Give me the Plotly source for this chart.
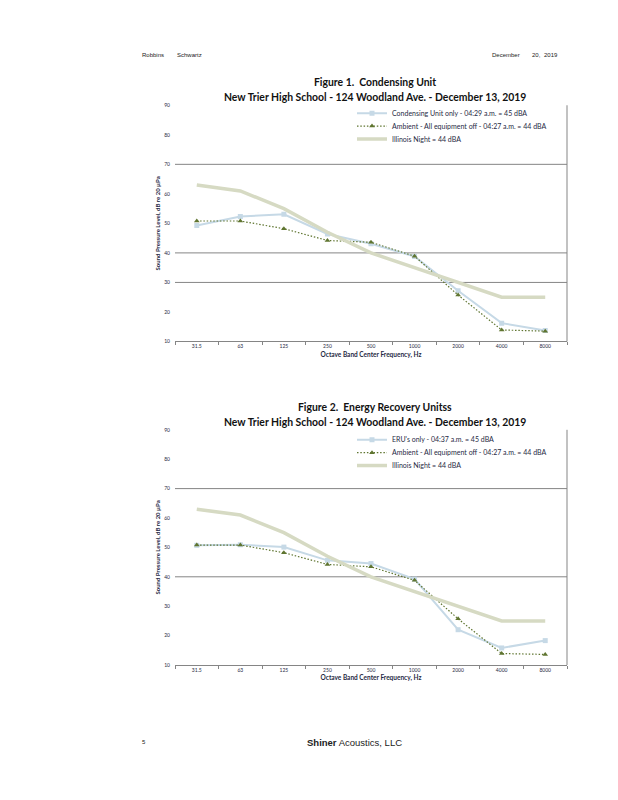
import plotly.graph_objects as go

freqs = ["31.5", "63", "125", "250", "500", "1000", "2000", "4000", "8000"]

# Figure 1 data
cu_only = [49.3, 52.3, 53.1, 46.4, 43.1, 38.8, 27.2, 16.2, 13.7]
ambient = [50.8, 50.8, 48.2, 44.2, 43.6, 38.9, 25.7, 13.9, 13.5]
illinois = [63, 61, 55, 47, 40, 35, 30, 25, 25]

# Figure 2 data
eru_only = [50.7, 50.9, 50.1, 45.6, 44.5, 39.2, 22.0, 15.8, 18.3]
ambient2 = [50.8, 50.8, 48.2, 44.2, 43.4, 38.8, 25.7, 13.9, 13.6]

name_cu = "Condensing Unit only - 04:29 a.m. = 45 dBA"
name_eru = "ERU's only - 04:37 a.m. = 45 dBA"
name_amb = "Ambient - All equipment off - 04:27 a.m. = 44 dBA"
name_il = "Illinois Night = 44 dBA"

y_ticks = [10, 20, 30, 40, 50, 60, 70, 80, 90]
grid1 = [70, 40, 30]
grid2 = [70, 40]

OFF = 8  # page body margin
W, H = 610, 792
BLUE = "#C6D9E6"
GREEN = "#5F7530"
KHAKI = "#D6DAC3"
GRID = "#858585"
TXT = "#1F2A44"

def px(xpix):
    return (xpix - OFF) / W

def py(ypix):
    return 1 - (ypix - OFF) / H

fig = go.Figure()

def add_series(xa, ya, unit_vals, unit_name, amb_vals, leg):
    fig.add_trace(go.Scatter(x=freqs, y=unit_vals, name=unit_name, xaxis=xa, yaxis=ya,
                             mode="lines+markers", line=dict(color=BLUE, width=2),
                             marker=dict(symbol="square", size=5, color=BLUE),
                             legend=leg[0]))
    fig.add_trace(go.Scatter(x=freqs, y=amb_vals, name=name_amb, xaxis=xa, yaxis=ya,
                             mode="lines+markers", line=dict(color=GREEN, width=1.2, dash="1.5px,1.8px"),
                             marker=dict(symbol="triangle-up", size=5, color=GREEN),
                             legend=leg[1]))
    fig.add_trace(go.Scatter(x=freqs, y=illinois, name=name_il, xaxis=xa, yaxis=ya,
                             mode="lines", line=dict(color=KHAKI, width=3.5),
                             legend=leg[2]))

add_series("x", "y", cu_only, name_cu, ambient, ["legend", "legend2", "legend3"])
add_series("x2", "y2", eru_only, name_eru, ambient2, ["legend4", "legend5", "legend6"])

xl, xr = 175, 567
plots = [(103, 341), (430, 667)]

axis_common_x = dict(type="category", categoryorder="array", categoryarray=freqs,
                     range=[-0.5, 8.5], showgrid=False, showline=True, linecolor=GRID,
                     linewidth=1, ticks="outside", ticklen=3, tickcolor=GRID,
                     tickson="boundaries", tickfont=dict(size=5, color=TXT, family="Lato"),
                     title=dict(text="<b>Octave Band Center Frequency, Hz</b>",
                                font=dict(size=6.5, color=TXT, family="Lato"), standoff=3),
                     zeroline=False, fixedrange=True)
axis_common_y = dict(range=[10, 90], tickvals=y_ticks, showgrid=False, zeroline=False,
                     showline=False, ticks="", tickfont=dict(size=5, color=TXT, family="Lato"),
                     ticklabelstandoff=4,
                     title=dict(text="<b>Sound Pressure Level, dB re 20 µPa</b>",
                                font=dict(size=6, color=TXT, family="Lato"), standoff=3),
                     fixedrange=True)

fig.update_layout(
    width=W, height=H, margin=dict(l=0, r=0, t=0, b=0),
    paper_bgcolor="white", plot_bgcolor="white", showlegend=True,
    xaxis=dict(domain=[px(xl), px(xr)], anchor="y", **axis_common_x),
    yaxis=dict(domain=[py(plots[0][1]), py(plots[0][0])], anchor="x", **axis_common_y),
    xaxis2=dict(domain=[px(xl), px(xr)], anchor="y2", **axis_common_x),
    yaxis2=dict(domain=[py(plots[1][1]), py(plots[1][0])], anchor="x2", **axis_common_y),
)

# one-item legends positioned row by row
leg_rows = {"legend": 111, "legend2": 124, "legend3": 137,
            "legend4": 440, "legend5": 453, "legend6": 466}
for k, ypix in leg_rows.items():
    fig.update_layout({k: dict(x=px(352), y=py(ypix), xanchor="left", yanchor="middle",
                               bgcolor="rgba(0,0,0,0)", borderwidth=0, itemwidth=30,
                               font=dict(size=7, color=TXT, family="Lato"),
                               tracegroupgap=0, visible=True)})

shapes = []
for xa, ya, gl in [("x", "y", grid1), ("x2", "y2", grid2)]:
    for g in gl:
        shapes.append(dict(type="line", xref=f"{xa} domain", yref=ya, x0=0, x1=1, y0=g, y1=g,
                           line=dict(color=GRID, width=1), layer="below"))
    shapes.append(dict(type="line", xref=f"{xa} domain", yref=f"{ya} domain", x0=1, x1=1,
                       y0=0, y1=1, line=dict(color=GRID, width=1)))
fig.update_layout(shapes=shapes)

annotations = []
titles = [("<b>Figure 1.  Condensing Unit</b>", 80),
          ("<b>New Trier High School - 124 Woodland Ave. - December 13, 2019</b>", 95),
          ("<b>Figure 2.  Energy Recovery Unitss</b>", 407),
          ("<b>New Trier High School - 124 Woodland Ave. - December 13, 2019</b>", 422)]
for t, ypix in titles:
    annotations.append(dict(text=t, x=px(375), y=py(ypix), xref="paper", yref="paper",
                            showarrow=False, xanchor="center", yanchor="middle",
                            font=dict(size=10.4, color="#111111", family="Lato")))
hdr_font = dict(size=6, color="#222222", family="Liberation Sans Narrow, Liberation Sans")
annotations += [
    dict(text="Robbins", x=px(140), y=py(52), xanchor="left", yanchor="middle", font=hdr_font),
    dict(text="Schwartz", x=px(175), y=py(52), xanchor="left", yanchor="middle", font=hdr_font),
    dict(text="December", x=px(490), y=py(52), xanchor="left", yanchor="middle", font=hdr_font),
    dict(text="20,", x=px(530), y=py(52), xanchor="left", yanchor="middle", font=hdr_font),
    dict(text="2019", x=px(542), y=py(52), xanchor="left", yanchor="middle", font=hdr_font),
    dict(text="5", x=px(140), y=py(745), xanchor="left", yanchor="middle", font=hdr_font),
    dict(text="<b>Shiner</b> Acoustics, LLC", x=px(305), y=py(745), xanchor="left",
         yanchor="middle", font=dict(size=9.5, color="#222222", family="Liberation Sans")),
]
for a in annotations:
    a.setdefault("xref", "paper")
    a.setdefault("yref", "paper")
    a.setdefault("showarrow", False)
fig.update_layout(annotations=annotations)

fig.write_html("out.html")
